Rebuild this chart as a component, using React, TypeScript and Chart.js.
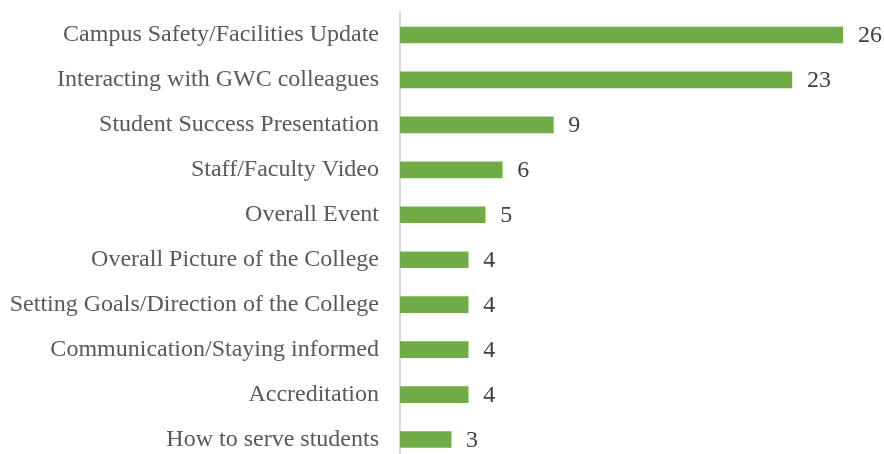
import React, { useEffect, useRef } from "react";
import { Chart, registerables } from "chart.js";

Chart.register(...registerables);

const categories = [
  "Campus Safety/Facilities Update",
  "Interacting with GWC colleagues",
  "Student Success Presentation",
  "Staff/Faculty Video",
  "Overall Event",
  "Overall Picture of the College",
  "Setting Goals/Direction of the College",
  "Communication/Staying informed",
  "Accreditation",
  "How to serve students",
];
const values = [26, 23, 9, 6, 5, 4, 4, 4, 4, 3];

const FONT = "'Liberation Serif', 'Times New Roman', serif";

const valueLabels = {
  id: "valueLabels",
  afterDatasetsDraw(chart: any) {
    const ctx = chart.ctx;
    const meta = chart.getDatasetMeta(0);
    ctx.save();
    ctx.font = `24px ${FONT}`;
    ctx.fillStyle = "#404040";
    ctx.textAlign = "left";
    ctx.textBaseline = "middle";
    meta.data.forEach((bar: any, i: number) => {
      ctx.fillText(String(values[i]), bar.x + 15, bar.y + 1);
    });
    ctx.restore();
  },
};

export default function App() {
  const ref = useRef<HTMLCanvasElement>(null);
  useEffect(() => {
    document.body.style.margin = "0";
    document.body.style.overflow = "hidden";
    const chart = new Chart(ref.current!, {
      type: "bar",
      data: {
        labels: categories,
        datasets: [
          {
            data: values,
            backgroundColor: "#70AD47",
            barThickness: 16,
          },
        ],
      },
      options: {
        indexAxis: "y",
        responsive: false,
        animation: false,
        layout: { padding: { top: 12.5, right: 41, bottom: 0, left: 0 } },
        plugins: { legend: { display: false }, tooltip: { enabled: false } },
        scales: {
          x: {
            display: false,
            min: 0,
            max: 26,
          },
          y: {
            grid: { display: false, drawTicks: false },
            border: { display: true, color: "#D9D9D9", width: 2 },
            ticks: {
              color: "#595959",
              font: { family: FONT, size: 24 },
              padding: 21,
            },
            afterFit: (scale: any) => {
              scale.width = 400;
              scale.paddingTop = 0;
              scale.paddingBottom = 0;
            },
          },
        },
      },
      plugins: [valueLabels],
    });
    return () => chart.destroy();
  }, []);
  return <canvas ref={ref} width={884} height={462} style={{ display: "block" }} />;
}
